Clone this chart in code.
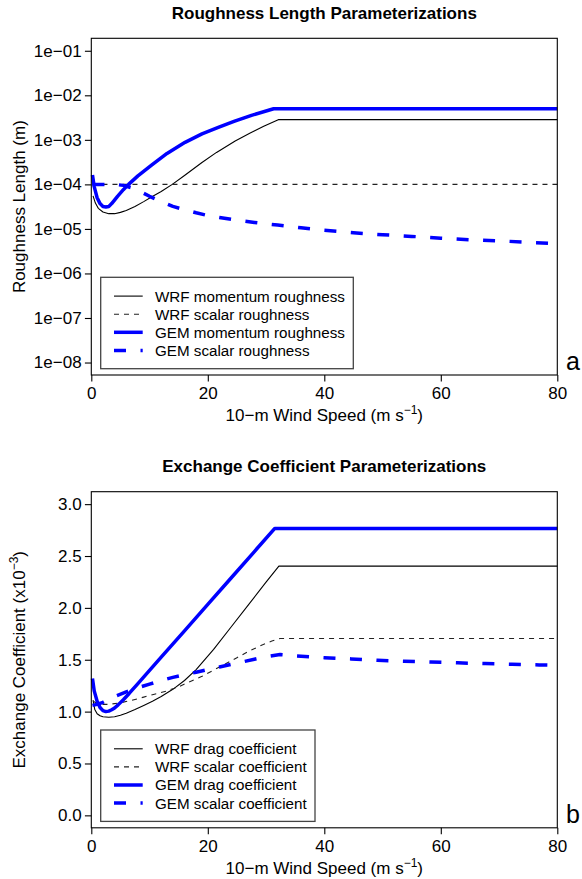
<!DOCTYPE html>
<html>
<head>
<meta charset="utf-8">
<script src="https://cdn.jsdelivr.net/npm/d3@7"></script>
<style>
  body { margin: 0; background: #fff; }
  svg { font-family: 'Liberation Sans', Arial, Helvetica, sans-serif; }
</style>
</head>
<body>
<div id="chart"></div>
<script>
// ---- data ----
// x: 10-m wind speed (m/s)
const windTicks = [0, 20, 40, 60, 80]

// panel a: roughness length (m), log axis
const roughTicks = [1e-8, 1e-7, 1e-6, 1e-5, 1e-4, 1e-3, 1e-2, 1e-1]
const roughTickLabels = ['1e−08', '1e−07', '1e−06', '1e−05', '1e−04', '1e−03', '1e−02', '1e−01']

// [wind speed, roughness length]
const wrfMomentumRough = [
  [0.3, 5.5e-5], [0.7, 3.8e-5], [1.2, 2.9e-5], [2, 2.4e-5], [3, 2.2e-5],
  [4, 2.2e-5], [5, 2.35e-5], [6, 2.6e-5], [7.5, 3.2e-5], [9, 4.1e-5],
  [10.4, 5.3e-5], [12, 6.9e-5], [13.9, 1.0e-4], [16, 1.58e-4], [19, 3.11e-4],
  [21.5, 5.22e-4], [24.7, 9.46e-4], [27.2, 1.4e-3], [29.6, 2.01e-3],
  [32.1, 2.84e-3], [80, 2.84e-3],
]
const wrfScalarRough = [[0.2, 1e-4], [80, 1e-4]]
const gemMomentumRough = [
  [0.2, 1.62e-4], [0.5, 8.9e-5], [1, 5.0e-5], [1.5, 3.7e-5], [2, 3.2e-5],
  [2.5, 3.1e-5], [3, 3.2e-5], [3.5, 3.7e-5], [4.5, 5.4e-5], [5.5, 7.6e-5],
  [6.4, 1.0e-4], [8, 1.55e-4], [10.4, 2.73e-4], [13, 4.95e-4], [16.1, 8.8e-4],
  [19, 1.36e-3], [21.8, 1.91e-3], [24.5, 2.6e-3], [27.5, 3.55e-3],
  [31.3, 5.0e-3], [80, 5.0e-3],
]
const gemScalarRough = [
  [0.2, 1.0e-4], [2, 1.0e-4], [4, 1.0e-4], [5.5, 9.5e-5], [7, 8.3e-5],
  [8.5, 6.8e-5], [10, 5.4e-5], [12, 4.1e-5], [14, 3.2e-5], [16, 2.7e-5],
  [18, 2.3e-5], [20, 2.0e-5], [22, 1.8e-5], [24, 1.64e-5], [26, 1.51e-5],
  [28, 1.4e-5], [30, 1.3e-5], [32, 1.22e-5], [36, 1.06e-5], [40, 9.3e-6],
  [45, 8.2e-6], [50, 7.4e-6], [55, 6.8e-6], [60, 6.2e-6], [65, 5.7e-6],
  [70, 5.4e-6], [75, 5.0e-6], [80, 4.7e-6],
]
const roughLabels = [
  'WRF momentum roughness', 'WRF scalar roughness',
  'GEM momentum roughness', 'GEM scalar roughness',
]

// panel b: exchange coefficient (x10^-3)
const coefTicks = [0, 0.5, 1, 1.5, 2, 2.5, 3]
const coefTickLabels = ['0.0', '0.5', '1.0', '1.5', '2.0', '2.5', '3.0']

const wrfDragCoef = [
  [0.3, 1.11], [0.6, 1.02], [1, 0.98], [1.5, 0.96], [2, 0.95], [3, 0.945],
  [4, 0.95], [5, 0.965], [6, 0.985], [7.5, 1.02], [9, 1.06], [10.5, 1.1],
  [12, 1.145], [14, 1.215], [16, 1.3], [18, 1.405], [21, 1.6], [24, 1.816],
  [27, 2.032], [30, 2.248], [32.2, 2.403], [80, 2.403],
]
const wrfScalarCoef = [
  [0.3, 1.1], [1, 1.08], [2, 1.07], [3, 1.07], [5, 1.085], [7, 1.11],
  [9, 1.14], [11, 1.17], [13, 1.2], [15, 1.24], [17, 1.29], [19, 1.34],
  [21, 1.4], [23, 1.46], [25, 1.52], [27, 1.58], [29, 1.635], [31, 1.68],
  [32.4, 1.705], [80, 1.705],
]
const gemDragCoef = [
  [0.2, 1.32], [0.5, 1.2], [1, 1.1], [1.5, 1.04], [2, 1.01], [2.5, 1.0],
  [3, 1.005], [3.5, 1.018], [4, 1.035], [4.6, 1.065], [5.5, 1.115],
  [6.5, 1.175], [8, 1.27], [12, 1.525], [16, 1.779], [20, 2.034],
  [24, 2.288], [28, 2.543], [31.5, 2.766], [80, 2.766],
]
const gemScalarCoef = [
  [0.2, 1.06], [1, 1.07], [2, 1.09], [3, 1.12], [4.4, 1.155], [6, 1.19],
  [8, 1.23], [10, 1.265], [12, 1.3], [14, 1.33], [16, 1.355], [18, 1.38],
  [20, 1.405], [22, 1.43], [24, 1.455], [26, 1.48], [28, 1.505], [30, 1.53],
  [32.4, 1.55], [35, 1.538], [40, 1.52], [44.6, 1.508], [49.1, 1.495],
  [53.7, 1.486], [58.3, 1.479], [62.9, 1.47], [67.6, 1.463], [72.2, 1.457],
  [76.9, 1.45], [80, 1.446],
]
const coefLabels = [
  'WRF drag coefficient', 'WRF scalar coefficient',
  'GEM drag coefficient', 'GEM scalar coefficient',
]

// ---- layout ----
const dimensions = {
  width: 582,
  height: 879,
  left: 91.3,
  right: 557.3,
  tickSize: 6.4,
  fontSize: 17,
}

// line styles: WRF thin black, GEM thick blue
const styles = [
  { color: '#000', width: 1.1, dash: null },
  { color: '#222', width: 1.1, dash: '5,5' },
  { color: '#0000ff', width: 3.5, dash: null },
  { color: '#0000ff', width: 3.5, dash: '12,14.5' },
]

const svg = d3
  .select('#chart')
  .append('svg')
  .attr('width', dimensions.width)
  .attr('height', dimensions.height)

const xScale = d3
  .scaleLinear()
  .domain([0, 80])
  .range([dimensions.left, dimensions.right])

const drawPanel = (p) => {
  const g = svg.append('g')

  // title
  g.append('text')
    .attr('x', (dimensions.left + dimensions.right) / 2)
    .attr('y', p.top - 19.5)
    .attr('text-anchor', 'middle')
    .attr('font-weight', 'bold')
    .attr('font-size', dimensions.fontSize)
    .text(p.title)

  // lines
  const line = d3
    .line()
    .x((d) => xScale(d[0]))
    .y((d) => p.yScale(d[1]))

  p.series.forEach((s, i) => {
    g.append('path')
      .datum(s)
      .attr('d', line)
      .attr('fill', 'none')
      .attr('stroke', styles[i].color)
      .attr('stroke-width', styles[i].width)
      .attr('stroke-dasharray', styles[i].dash)
      .attr('stroke-linejoin', 'round')
  })

  // box
  g.append('rect')
    .attr('x', dimensions.left)
    .attr('y', p.top)
    .attr('width', dimensions.right - dimensions.left)
    .attr('height', p.bottom - p.top)
    .attr('fill', 'none')
    .attr('stroke', '#000')
    .attr('stroke-width', 1.1)

  // x axis
  const xAxis = d3
    .axisBottom(xScale)
    .tickValues(windTicks)
    .tickSize(dimensions.tickSize)
    .tickSizeOuter(0)
    .tickPadding(5.8)
  const xAxisGroup = g
    .append('g')
    .attr('transform', `translate(0, ${p.bottom})`)
    .call(xAxis)
  xAxisGroup.select('.domain').remove()

  // y axis
  const yAxis = d3
    .axisLeft(p.yScale)
    .tickValues(p.ticks)
    .tickFormat((d, i) => p.tickLabels[i])
    .tickSize(dimensions.tickSize)
    .tickSizeOuter(0)
    .tickPadding(3.3)
  const yAxisGroup = g
    .append('g')
    .attr('transform', `translate(${dimensions.left}, 0)`)
    .call(yAxis)
  yAxisGroup.select('.domain').remove()

  g.selectAll('.tick line').attr('stroke', '#000').attr('stroke-width', 1.1)
  g.selectAll('.tick text')
    .attr('font-size', dimensions.fontSize)
    .attr('font-family', null)
    .attr('fill', '#000')

  // x axis title
  const xTitle = g
    .append('text')
    .attr('x', (dimensions.left + dimensions.right) / 2)
    .attr('y', p.bottom + 45.8)
    .attr('text-anchor', 'middle')
    .attr('font-size', dimensions.fontSize)
  xTitle.append('tspan').text('10−m Wind Speed (m s')
  xTitle.append('tspan').attr('font-size', 12).attr('dy', -7).text('−1')
  xTitle.append('tspan').attr('dy', 7).text(')')

  // y axis title
  const yTitle = g
    .append('text')
    .attr('transform', `translate(25, ${(p.top + p.bottom) / 2}) rotate(-90)`)
    .attr('text-anchor', 'middle')
    .attr('font-size', dimensions.fontSize)
  yTitle.append('tspan').text(p.yTitle)
  if (p.yTitleSup) {
    yTitle.append('tspan').attr('font-size', 12).attr('dy', -7).text(p.yTitleSup)
    yTitle.append('tspan').attr('dy', 7).text(')')
  }

  // panel letter
  g.append('text')
    .attr('x', 566)
    .attr('y', p.bottom - 5)
    .attr('font-size', 25)
    .text(p.letter)

  // legend
  const lg = g.append('g')
  lg.append('rect')
    .attr('x', 100.7)
    .attr('y', p.legendTop)
    .attr('width', p.legendWidth)
    .attr('height', 91.4)
    .attr('fill', '#fff')
    .attr('stroke', '#444')
    .attr('stroke-width', 1.3)

  p.labels.forEach((label, i) => {
    const y = p.legendTop + 18.8 + i * 18.1
    lg.append('line')
      .attr('x1', 114)
      .attr('x2', 142.7)
      .attr('y1', y)
      .attr('y2', y)
      .attr('stroke', styles[i].color)
      .attr('stroke-width', styles[i].width)
      .attr('stroke-dasharray', styles[i].dash)
    lg.append('text')
      .attr('x', 155)
      .attr('y', y)
      .attr('dy', '0.36em')
      .attr('font-size', 15.2)
      .text(label)
  })
}

// panel a
const roughScale = d3
  .scaleLog()
  .domain([Math.pow(10, -8.28), Math.pow(10, -0.72)])
  .range([375, 38.3])

drawPanel({
  title: 'Roughness Length Parameterizations',
  top: 38.3,
  bottom: 375,
  yScale: roughScale,
  ticks: roughTicks,
  tickLabels: roughTickLabels,
  yTitle: 'Roughness Length (m)',
  series: [wrfMomentumRough, wrfScalarRough, gemMomentumRough, gemScalarRough],
  labels: roughLabels,
  legendTop: 277.3,
  legendWidth: 252.6,
  letter: 'a',
})

// panel b
const coefScale = d3
  .scaleLinear()
  .domain([-0.12, 3.12])
  .range([827.8, 491.7])

drawPanel({
  title: 'Exchange Coefficient Parameterizations',
  top: 491.7,
  bottom: 827.8,
  yScale: coefScale,
  ticks: coefTicks,
  tickLabels: coefTickLabels,
  yTitle: 'Exchange Coefficient (x10',
  yTitleSup: '−3',
  series: [wrfDragCoef, wrfScalarCoef, gemDragCoef, gemScalarCoef],
  labels: coefLabels,
  legendTop: 730,
  legendWidth: 214.3,
  letter: 'b',
})
</script>
</body>
</html>
